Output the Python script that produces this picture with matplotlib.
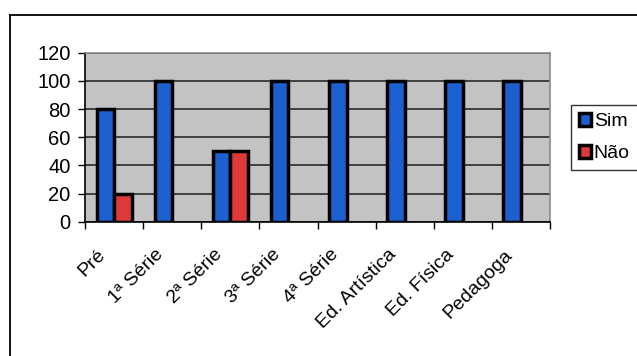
import matplotlib
matplotlib.use("Agg")
import matplotlib.pyplot as plt
from matplotlib.lines import Line2D
from matplotlib.transforms import ScaledTranslation
import numpy as np

categories = ["Pré", "1ª Série", "2ª Série", "3ª Série", "4ª Série",
              "Ed. Artística", "Ed. Física", "Pedagoga"]
sim = [80, 100, 50, 100, 100, 100, 100, 100]
nao = [20, 0, 50, 0, 0, 0, 0, 0]
y_ticks = [0, 20, 40, 60, 80, 100, 120]

plt.rcParams["font.family"] = ["Liberation Sans", "DejaVu Sans"]

W, H = 637, 356
fig = plt.figure(figsize=(W / 100, H / 100), dpi=100)
fig.patch.set_facecolor("white")

ax = fig.add_axes([85 / W, 1 - 221.7 / H, 465 / W, 169 / H])
ax.set_facecolor("#c3c3c3")

x = np.arange(len(categories)) + 0.5
bw = 0.3
blue = "#1c5fcf"
red = "#de3a3a"
bars_sim = ax.bar(x - bw / 2, sim, bw, color=blue, edgecolor="black",
                  linewidth=2.5, zorder=3, label="Sim")
bars_nao = ax.bar(x + bw / 2, nao, bw, color=red, edgecolor="black",
                  linewidth=2.5, zorder=3, label="Não")
# empty bars leave no outline on the axis
for b in list(bars_sim) + list(bars_nao):
    if b.get_height() == 0:
        b.set_visible(False)

ax.set_xlim(0, len(categories))
ax.set_ylim(0, 120)
ax.set_yticks(y_ticks)
ax.yaxis.grid(True, color="#2a2a2a", linewidth=1.2, zorder=1)
ax.set_axisbelow(True)

ax.set_xticks(np.arange(len(categories) + 1))
ax.set_xticklabels([])
ax.set_xticks(x, minor=True)
ax.set_xticklabels(categories, minor=True, rotation=45, ha="right",
                   va="top", rotation_mode="anchor", fontsize=14)
ax.tick_params(axis="x", which="minor", length=0, pad=6)
ax.tick_params(axis="x", which="major", length=5, width=1, color="black",
               direction="out")
ax.tick_params(axis="y", length=5, width=1, direction="out", labelsize=14.5,
               pad=5.5)

# shift the slanted category labels down along their baseline
shift = ScaledTranslation(-0.17, -0.16, fig.dpi_scale_trans)
for lbl in ax.get_xticklabels(minor=True):
    lbl.set_transform(lbl.get_transform() + shift)

for side in ("top", "right"):
    ax.spines[side].set_color("#8a8a8a")
    ax.spines[side].set_linewidth(1.2)
for side in ("left", "bottom"):
    ax.spines[side].set_color("black")
    ax.spines[side].set_linewidth(1.2)

leg = fig.legend(loc="upper left", bbox_to_anchor=(571 / W, 1 - 105 / H),
                 fontsize=14, frameon=True, fancybox=False,
                 edgecolor="black", handlelength=0.65, handleheight=0.65,
                 handletextpad=0.12, borderpad=0.4, borderaxespad=0,
                 labelspacing=0.75)
leg.get_frame().set_linewidth(1.0)

# outer chart frame
fig.add_artist(Line2D([9.5 / W, 9.5 / W], [1 - 14.5 / H, 0],
                      transform=fig.transFigure, color="black", linewidth=1.3))
fig.add_artist(Line2D([9.5 / W, 1], [1 - 14.5 / H, 1 - 14.5 / H],
                      transform=fig.transFigure, color="black", linewidth=1.3))

fig.savefig("out.png", dpi=100)
